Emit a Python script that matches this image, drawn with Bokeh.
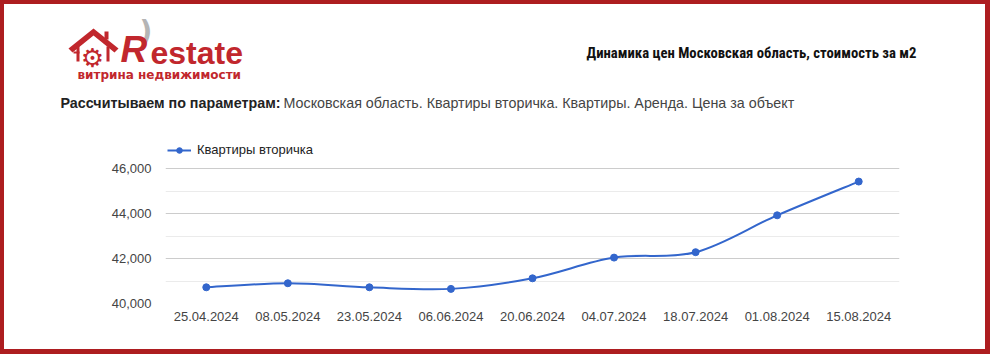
from bokeh.plotting import figure
from bokeh.layouts import column, row
from bokeh.models import (Range1d, FixedTicker, NumeralTickFormatter, Label, Legend,
                          LegendItem, Div)
from bokeh.embed import file_html
from bokeh.resources import INLINE

# ---------------- data ----------------
dates = ["25.04.2024", "08.05.2024", "23.05.2024", "06.06.2024", "20.06.2024",
         "04.07.2024", "18.07.2024", "01.08.2024", "15.08.2024"]
prices = [40720, 40900, 40720, 40650, 41120, 42040, 42280, 43920, 45420]
y_ticks = [40000, 42000, 44000, 46000]
y_minor = [41000, 43000, 45000]
series_name = "Квартиры вторичка"
title_text = "Динамика цен Московская область, стоимость за м2"
subtitle_bold = "Рассчитываем по параметрам:"
subtitle_rest = "Московская область. Квартиры вторичка. Квартиры. Аренда. Цена за объект"
logo_word_r = "R"
logo_word_rest = "estate"
logo_tagline = "витрина недвижимости"

W, H = 990, 354
BL, BR, BT, BB = 4, 5, 4, 5          # red frame thickness
IW, IH = W - BL - BR, H - BT - BB    # inner area
HH = 136                             # header height
CH = IH - HH                         # chart height
RED = "#c1272d"
FRAME = "#ad1d20"
LINE = "#3366cc"


def bar(w, h):
    return Div(text="", width=w, height=h, margin=0,
               styles={"background-color": FRAME, "padding": "0", "margin": "0"})


# ---------------- header ----------------
hd = figure(width=IW, height=HH, output_backend="svg", toolbar_location=None, min_border=0,
            x_axis_location=None, y_axis_location=None,
            x_range=Range1d(BL, BL + IW), y_range=Range1d(BT + HH, BT))
hd.frame_align = False
hd.outline_line_color = None
hd.grid.visible = False
hd.background_fill_color = "white"
hd.border_fill_color = "white"


def lab(x, y, text, size, color, style="normal", font="Liberation Sans", align="left"):
    hd.add_layout(Label(x=x, y=y, text=text, text_font=font, text_font_size=size,
                        text_color=color, text_font_style=style, text_align=align,
                        text_baseline="middle"))


lab(586, 52, title_text, "14.7px", "#111111", style="bold", font="Roboto Condensed")
lab(60, 102, subtitle_bold, "14.3px", "#222222", style="bold")
lab(283, 102, subtitle_rest, "14.3px", "#444444")

# logo
lab(139, 31, ")", "28px", "#b5b5b5", style="bold", font="DejaVu Sans")
lab(120, 49, logo_word_r, "37px", RED, style="bold italic")
lab(150, 52, logo_word_rest, "32px", RED, style="bold")
lab(77, 74, logo_tagline, "12px", RED, style="bold", font="DejaVu Sans")
lab(92, 57, "\u2699", "26px", RED, font="DejaVu Sans", align="center")
hd.patch([93, 118, 114, 93, 72, 68], [28, 48, 52, 35, 52, 48], color=RED, line_color=None)
hd.patch([76, 79, 79, 76], [46, 46, 61, 61], color=RED, line_color=None)
hd.patch([73, 79, 79, 73], [51, 51, 53, 53], color=RED, line_color=None)
hd.patch([106, 109, 109, 106], [46, 46, 61, 61], color=RED, line_color=None)
hd.patch([104, 108, 108, 104], [31, 31, 39, 39], color=RED, line_color=None)

# ---------------- chart ----------------
frame_top, g_top, g_bot = 140, 168, 303    # canvas pixels of frame top / 46,000 / 40,000
units_per_px = (y_ticks[-1] - y_ticks[0]) / (g_bot - g_top)
y_end = y_ticks[-1] + (g_top - frame_top) * units_per_px

p = figure(width=IW, height=CH, output_backend="svg", toolbar_location=None,
           x_range=Range1d(-0.5, len(dates) - 0.5), y_range=Range1d(y_ticks[0], y_end),
           min_border_left=165 - BL, min_border_right=(BL + IW) - 899,
           min_border_top=0, min_border_bottom=(BT + HH + CH) - g_bot)
p.frame_align = False
p.outline_line_color = None
p.background_fill_color = "white"
p.border_fill_color = "white"

n = len(prices)
xi = list(range(n))
t = 1.0 / 6.0
x0, y0, x1, y1, cx0, cy0, cx1, cy1 = [], [], [], [], [], [], [], []
for i in range(n - 1):
    im = max(i - 1, 0)
    ip = min(i + 2, n - 1)
    x0.append(xi[i]); y0.append(prices[i])
    x1.append(xi[i + 1]); y1.append(prices[i + 1])
    cx0.append(xi[i] + (xi[i + 1] - xi[im]) * t)
    cy0.append(prices[i] + (prices[i + 1] - prices[im]) * t)
    cx1.append(xi[i + 1] - (xi[ip] - xi[i]) * t)
    cy1.append(prices[i + 1] - (prices[ip] - prices[i]) * t)

bez = p.bezier(x0=x0, y0=y0, x1=x1, y1=y1, cx0=cx0, cy0=cy0, cx1=cx1, cy1=cy1,
               line_color=LINE, line_width=2)
sc = p.scatter(xi, prices, size=7, fill_color=LINE, line_color=LINE)

p.xaxis.ticker = FixedTicker(ticks=xi)
p.xaxis.major_label_overrides = {i: d for i, d in enumerate(dates)}
p.yaxis.ticker = FixedTicker(ticks=y_ticks, minor_ticks=y_minor)
p.ygrid.ticker = p.yaxis.ticker
p.yaxis.formatter = NumeralTickFormatter(format="0,0")
for ax in (p.xaxis, p.yaxis):
    ax.axis_line_color = None
    ax.major_tick_line_color = None
    ax.minor_tick_line_color = None
    ax.major_tick_out = 0
    ax.major_tick_in = 0
    ax.minor_tick_out = 0
    ax.minor_tick_in = 0
    ax.major_label_text_font = "Liberation Sans"
    ax.major_label_text_font_size = "13px"
    ax.major_label_text_color = "#444444"
p.yaxis.major_label_standoff = 14
p.xaxis.major_label_standoff = 8
p.xgrid.grid_line_color = None
p.ygrid.grid_line_color = "#cccccc"
p.ygrid.minor_grid_line_color = "#ebebeb"

legend = Legend(items=[LegendItem(label=series_name, renderers=[bez, sc])],
                location=(2, (g_bot - 150) - 7), border_line_color=None,
                background_fill_alpha=0, padding=0, margin=0, spacing=0,
                glyph_width=24, glyph_height=14, label_height=14, label_standoff=6,
                label_text_font="Liberation Sans", label_text_font_size="13px",
                label_text_color="#222222", label_text_baseline="middle")
p.add_layout(legend)

layout = column(bar(W, BT),
                row(bar(BL, IH), column(hd, p, spacing=0), bar(BR, IH), spacing=0),
                bar(W, BB), spacing=0)

open("out.html", "w").write(file_html(layout, INLINE))
